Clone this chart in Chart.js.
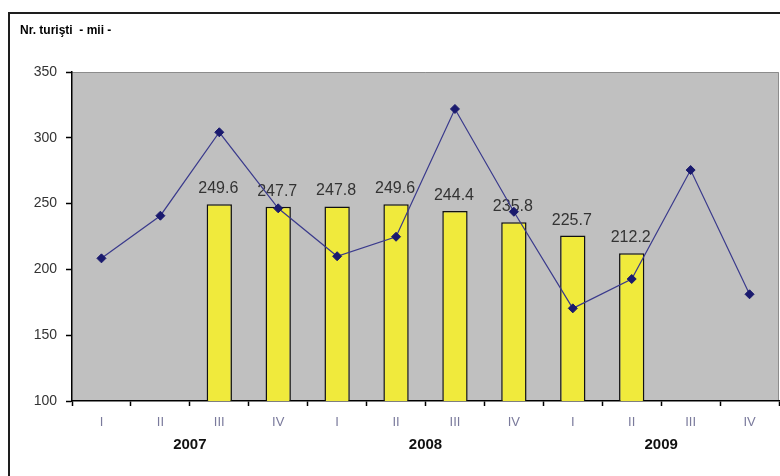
<!DOCTYPE html>
<html>
<head>
<meta charset="utf-8">
<script src="https://cdn.jsdelivr.net/npm/chart.js@4"></script>
<style>
  html, body { margin: 0; padding: 0; background: #fff; }
  #wrap { width: 780px; height: 476px; position: relative; }
</style>
</head>
<body>
<div id="wrap"><canvas id="c" width="780" height="476"></canvas></div>
<script>
// Quarters and years
const quarters = ['I', 'II', 'III', 'IV', 'I', 'II', 'III', 'IV', 'I', 'II', 'III', 'IV'];
const years = ['2007', '2008', '2009'];

// Tourists per quarter (thousands)
const touristsQuarter = [208.4, 240.8, 304.2, 246.4, 210.0, 224.8, 321.9, 243.8, 170.4, 192.7, 275.5, 181.1];

// Moving annual average (thousands), available from III 2007 to II 2009
const touristsAverage = [null, null, 249.6, 247.7, 247.8, 249.6, 244.4, 235.8, 225.7, 212.2, null, null];

// Y axis ticks
const yMin = 100, yMax = 350, yStep = 50;

const FONT = "'Liberation Sans', Arial, sans-serif";

const framePlugin = {
  id: 'frame',
  beforeDraw(chart) {
    const { ctx, chartArea: a } = chart;
    ctx.save();
    ctx.fillStyle = '#ffffff';
    ctx.fillRect(0, 0, chart.width, chart.height);
    // outer box
    ctx.strokeStyle = '#1e1e1e';
    ctx.lineWidth = 2;
    ctx.beginPath();
    ctx.moveTo(9, chart.height + 2);
    ctx.lineTo(9, 13);
    ctx.lineTo(chart.width + 2, 13);
    ctx.stroke();
    // plot background
    ctx.fillStyle = '#c0c0c0';
    ctx.fillRect(a.left, a.top, a.right - a.left, a.bottom - a.top);
    ctx.strokeStyle = '#8c8c8c';
    ctx.lineWidth = 1;
    ctx.beginPath();
    ctx.moveTo(a.left, a.top + 0.5);
    ctx.lineTo(a.right - 0.5, a.top + 0.5);
    ctx.lineTo(a.right - 0.5, a.bottom);
    ctx.stroke();
    // axis title
    ctx.fillStyle = '#000';
    ctx.font = "bold 12px 'Liberation Sans Narrow', " + FONT;
    ctx.textBaseline = 'alphabetic';
    ctx.textAlign = 'left';
    ctx.fillText('Nr. turişti  - mii -', 20, 34);
    ctx.restore();
  },
  afterDraw(chart) {
    const { ctx } = chart;
    const x = chart.scales.x;
    ctx.save();
    ctx.fillStyle = '#111';
    ctx.font = 'bold 15px ' + FONT;
    ctx.textAlign = 'center';
    ctx.textBaseline = 'middle';
    years.forEach((yr, i) => {
      const cx = (x.getPixelForValue(i * 4 + 1) + x.getPixelForValue(i * 4 + 2)) / 2;
      ctx.fillText(yr, cx, 445);
    });
    ctx.restore();
  }
};

const barLabelPlugin = {
  id: 'barLabels',
  afterDatasetDraw(chart, args) {
    if (args.index !== 1) return;
    const { ctx } = chart;
    const meta = args.meta;
    ctx.save();
    ctx.fillStyle = '#333';
    ctx.font = '16px ' + FONT;
    ctx.textAlign = 'center';
    ctx.textBaseline = 'alphabetic';
    meta.data.forEach((bar, i) => {
      const v = touristsAverage[i];
      if (v === null) return;
      ctx.fillText(v.toFixed(1), bar.x - 1, bar.y - 11);
    });
    ctx.restore();
  }
};

new Chart(document.getElementById('c'), {
  data: {
    labels: quarters,
    datasets: [
      {
        type: 'line',
        data: touristsQuarter,
        borderColor: '#3a3a8c',
        borderWidth: 1.2,
        pointStyle: 'rectRot',
        pointRadius: 4.5,
        pointBackgroundColor: '#1a1a6e',
        pointBorderColor: '#1a1a6e',
        pointBorderWidth: 1,
        tension: 0,
        fill: false,
        clip: false
      },
      {
        type: 'bar',
        data: touristsAverage,
        backgroundColor: '#f0ea3c',
        borderColor: '#111',
        borderWidth: 1.5,
        categoryPercentage: 1,
        barPercentage: 0.43
      }
    ]
  },
  options: {
    responsive: false,
    animation: false,
    layout: { autoPadding: false, padding: { left: 0, top: 72, right: 1, bottom: 0 } },
    plugins: { legend: { display: false }, tooltip: { enabled: false } },
    scales: {
      x: {
        type: 'category',
        offset: true,
        grid: { display: true, drawOnChartArea: false, offset: true, color: '#000', tickLength: 5, tickWidth: 1.5 },
        border: { display: true, color: '#000', width: 1.5 },
        ticks: { color: '#7a7a9c', font: { family: FONT, size: 13 }, padding: 9, maxRotation: 0, autoSkip: false },
        afterFit(s) { s.height = 75; }
      },
      y: {
        min: yMin,
        max: yMax,
        ticks: { stepSize: yStep, color: '#333', font: { family: FONT, size: 14 }, padding: 9 },
        grid: { display: true, drawOnChartArea: false, color: '#000', tickLength: 6, tickWidth: 1.5 },
        border: { display: true, color: '#000', width: 1.5 },
        afterFit(s) { s.width = 72; }
      }
    }
  },
  plugins: [framePlugin, barLabelPlugin]
});
</script>
</body>
</html>
